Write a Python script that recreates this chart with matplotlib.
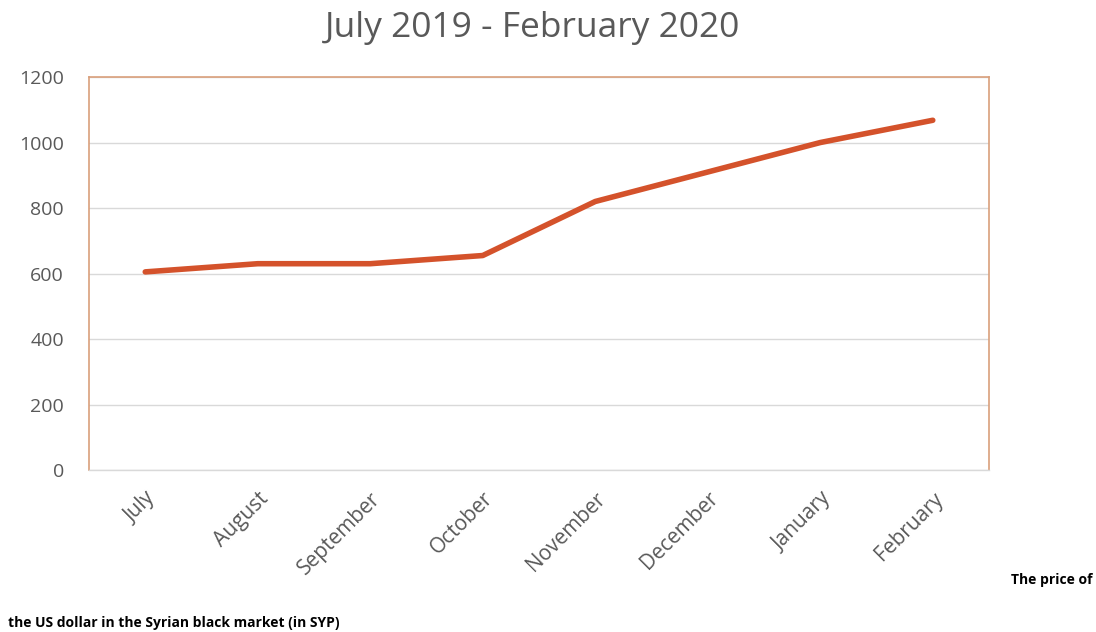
import numpy as np
from matplotlib import pyplot as plt

months = ["July", "August", "September", "October", "November", "December", "January", "February"]
usd_price = [605, 630, 630, 655, 820, 910, 1000, 1068]
y_ticks = [0, 200, 400, 600, 800, 1000, 1200]

line_color = "#D4522B"
frame_color = "#D9A07C"
text_color = "#595959"
grid_color = "#D9D9D9"

plt.rcParams['font.family'] = ['Open Sans', 'DejaVu Sans']

fig = plt.figure(figsize=(10.96, 6.32), dpi=100)
ax = fig.add_axes([0.0812, 0.2563, 0.8212, 0.6218])

x = np.arange(len(months))
ax.plot(x, usd_price, color=line_color, lw=4, solid_capstyle='round', solid_joinstyle='round', zorder=3)

ax.set_xlim(-0.5, len(months) - 0.5)
ax.set_ylim(0, 1200)
ax.set_yticks(y_ticks)
ax.set_yticklabels([str(v) for v in y_ticks], color=text_color, fontsize=14)
ax.set_xticks(x)
ax.set_xticklabels(months, rotation=45, ha='right', rotation_mode='anchor',
                   color=text_color, fontsize=15)
ax.tick_params(axis='both', length=0)
ax.tick_params(axis='y', pad=18)
ax.tick_params(axis='x', pad=13)

ax.grid(axis='y', color=grid_color, lw=1)
ax.set_axisbelow(True)
for side in ['left', 'right', 'top']:
    ax.spines[side].set_color(frame_color)
    ax.spines[side].set_linewidth(1.2)
ax.spines['bottom'].set_color(grid_color)
ax.spines['bottom'].set_linewidth(1)

fig.text(0.486, 0.955, "July 2019 - February 2020", ha='center', va='center',
         fontsize=25.5, color=text_color)

fig.text(0.997, 0.082, "The price of", ha='right', va='center',
         fontsize=10, fontweight='bold', color='black')
fig.text(0.007, 0.014, "the US dollar in the Syrian black market (in SYP)", ha='left', va='center',
         fontsize=10, fontweight='bold', color='black')

fig.savefig("out.png", dpi=100)
